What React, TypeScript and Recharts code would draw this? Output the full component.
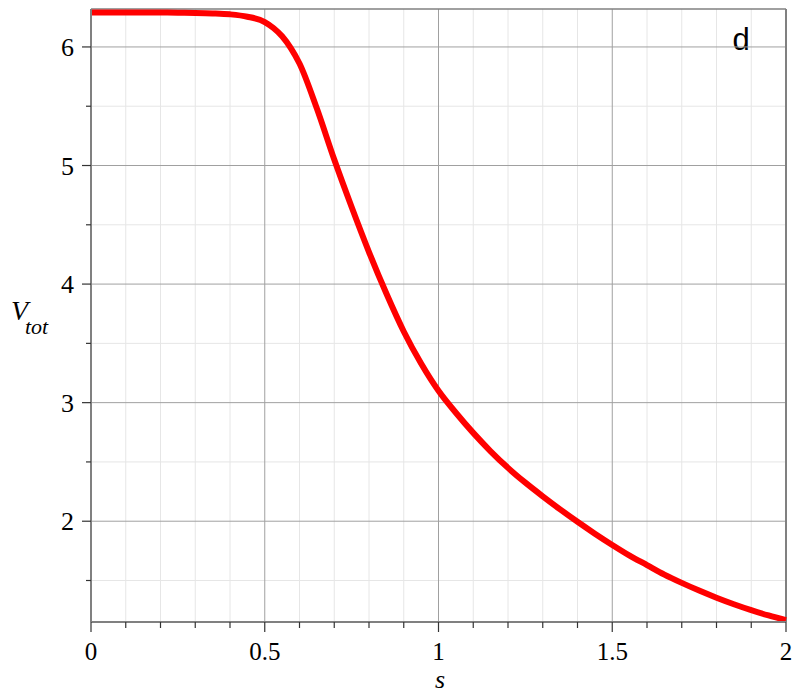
import { Line, LineChart, ReferenceLine, XAxis, YAxis } from 'recharts'

const S = [
  0, 0.05, 0.1, 0.15, 0.2, 0.25, 0.3, 0.35, 0.4, 0.45,
  0.5, 0.525, 0.55, 0.575, 0.6, 0.65, 0.7, 0.75, 0.8, 0.85, 0.9, 0.95,
  1.0, 1.05, 1.1, 1.15, 1.2, 1.25, 1.3, 1.35, 1.4, 1.45,
  1.5, 1.55, 1.6, 1.65, 1.7, 1.75, 1.8, 1.85, 1.9, 1.95, 2.0,
]
const V_TOT = [
  6.29, 6.29, 6.29, 6.29, 6.29, 6.289, 6.287, 6.283, 6.275, 6.255,
  6.21, 6.16, 6.09, 5.99, 5.86, 5.48, 5.05, 4.65, 4.27, 3.92, 3.6, 3.33,
  3.1, 2.915, 2.745, 2.59, 2.45, 2.325, 2.21, 2.1, 1.995, 1.895,
  1.8, 1.71, 1.63, 1.55, 1.48, 1.415, 1.355, 1.3, 1.25, 1.205, 1.165,
]

const X_TICKS = [0, 0.1, 0.2, 0.3, 0.4, 0.5, 0.6, 0.7, 0.8, 0.9, 1, 1.1, 1.2, 1.3, 1.4, 1.5, 1.6, 1.7, 1.8, 1.9, 2]
const X_MAJOR = [0, 0.5, 1, 1.5, 2]
const X_MINOR = [0.1, 0.2, 0.3, 0.4, 0.6, 0.7, 0.8, 0.9, 1.1, 1.2, 1.3, 1.4, 1.6, 1.7, 1.8, 1.9]
const Y_TICKS = [1.5, 2, 2.5, 3, 3.5, 4, 4.5, 5, 5.5, 6]
const Y_MAJOR = [2, 3, 4, 5, 6]
const Y_MINOR = [1.5, 2.5, 3.5, 4.5, 5.5]
const Y_DOMAIN = [1.15, 6.32]

const data = S.map((s, i) => ({ s, v: V_TOT[i] }))

const SERIF = 'Liberation Serif'
const axisGrey = '#808080'

const isMajorX = (v: number) => Math.abs(v * 2 - Math.round(v * 2)) < 1e-9

function XTick({ x, y, payload }: any) {
  const major = isMajorX(payload.value)
  return (
    <g>
      <line x1={x} x2={x} y1={y} y2={y + (major ? 10 : 6)} stroke="#333" strokeWidth={1.2} />
      {major && (
        <text x={x} y={y + 38} textAnchor="middle" fontFamily={SERIF} fontSize={25} style={{ fontFamily: '"Liberation Serif"', fontSize: 25 }} fill="#000">
          {String(payload.value)}
        </text>
      )}
    </g>
  )
}

function YTick({ x, y, payload }: any) {
  const major = Number.isInteger(payload.value)
  return (
    <g>
      <line x1={x - (major ? 9 : 5)} x2={x} y1={y} y2={y} stroke="#333" strokeWidth={1.2} />
      {major && (
        <text x={x - 17} y={y + 9} textAnchor="end" fontFamily={SERIF} fontSize={26} style={{ fontFamily: '"Liberation Serif"', fontSize: 26 }} fill="#000">
          {String(payload.value)}
        </text>
      )}
    </g>
  )
}

export default function App() {
  return (
    <div style={{ position: 'absolute', left: 0, top: 0, width: 800, height: 700, background: '#fff', fontFamily: '"Liberation Serif"' }}>
      <LineChart width={800} height={700} data={data} margin={{ top: 9, right: 14, left: 31, bottom: 48 }} style={{ fontFamily: '"Liberation Serif"' }}>
        {X_MINOR.map(v => (
          <ReferenceLine key={'xm' + v} x={v} stroke="#e6e6e6" strokeWidth={1} />
        ))}
        {Y_MINOR.map(v => (
          <ReferenceLine key={'ym' + v} y={v} stroke="#e6e6e6" strokeWidth={1} />
        ))}
        {X_MAJOR.map(v => (
          <ReferenceLine key={'xM' + v} x={v} stroke="#a0a0a0" strokeWidth={1} />
        ))}
        {Y_MAJOR.map(v => (
          <ReferenceLine key={'yM' + v} y={v} stroke="#a0a0a0" strokeWidth={1} />
        ))}
        <ReferenceLine y={Y_DOMAIN[1]} stroke={axisGrey} strokeWidth={1.5} />
        <ReferenceLine x={2} stroke={axisGrey} strokeWidth={2} />
        <XAxis
          dataKey="s"
          type="number"
          domain={[0, 2]}
          ticks={X_TICKS}
          interval={0}
          height={30}
          tickSize={0}
          tickMargin={0}
          axisLine={{ stroke: axisGrey, strokeWidth: 2 }}
          tickLine={false}
          tick={(p: any) => <XTick {...p} />}
        />
        <YAxis
          type="number"
          domain={Y_DOMAIN}
          ticks={Y_TICKS}
          interval={0}
          width={60}
          tickSize={0}
          tickMargin={0}
          axisLine={{ stroke: axisGrey, strokeWidth: 2 }}
          tickLine={false}
          tick={(p: any) => <YTick {...p} />}
        />
        <Line
          type="monotone"
          dataKey="v"
          stroke="#ff0000"
          strokeWidth={6}
          dot={false}
          isAnimationActive={false}
        />
        <text x={11} y={320} fontFamily={SERIF} fontStyle="italic" fontSize={28} fill="#000">
          V
        </text>
        <text x={25} y={334} fontFamily={SERIF} fontStyle="italic" fontSize={22} fill="#000">
          tot
        </text>
        <text x={440} y={688} textAnchor="middle" fontFamily={SERIF} fontStyle="italic" fontSize={26} fill="#000">
          s
        </text>
        <text x={741} y={50} textAnchor="middle" fontFamily="Liberation Sans" fontSize={31} fill="#000">
          d
        </text>
      </LineChart>
    </div>
  )
}
